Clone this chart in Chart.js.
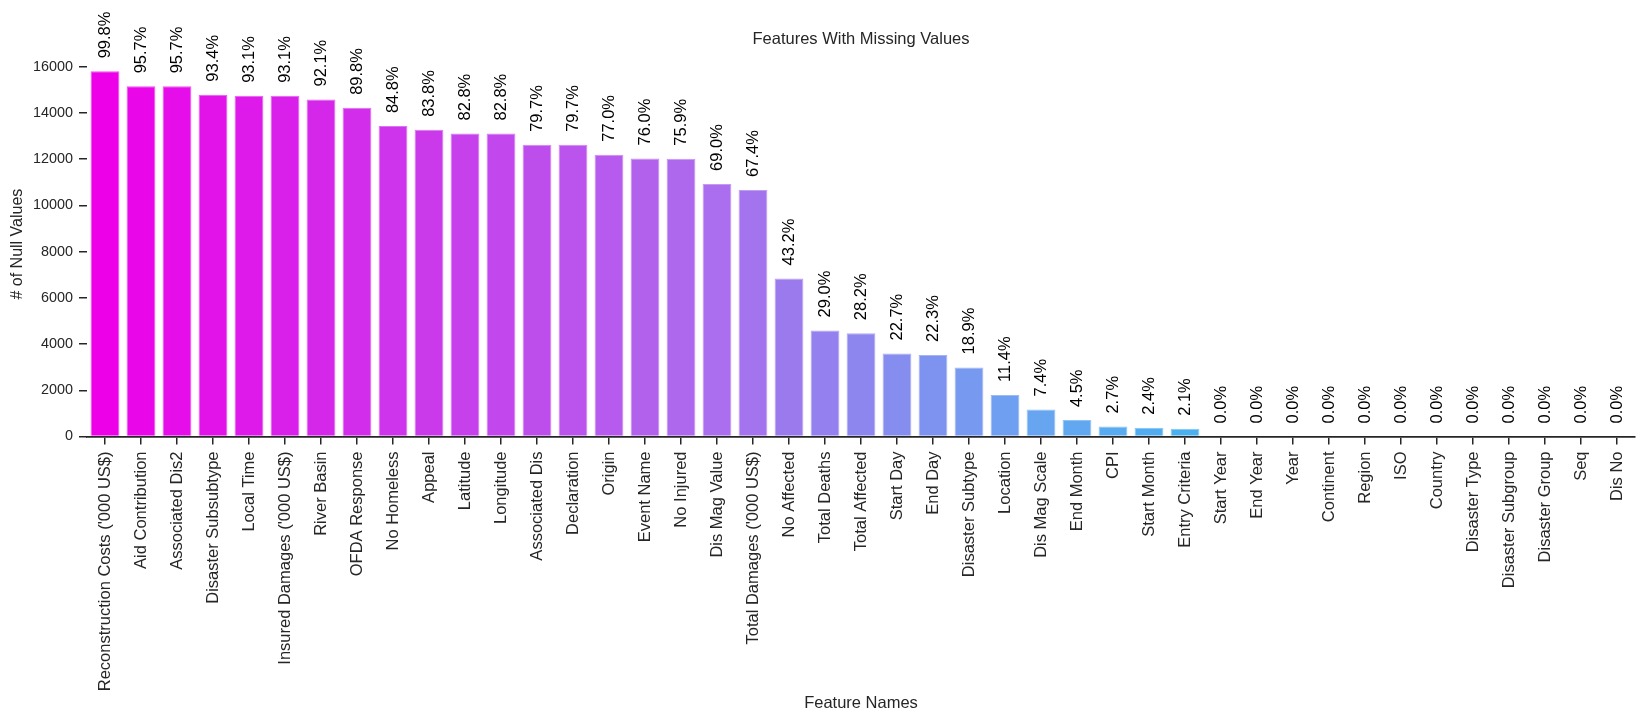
<!DOCTYPE html>
<html>
<head>
<meta charset="utf-8">
<title>Features With Missing Values</title>
<script src="https://cdn.jsdelivr.net/npm/chart.js@4.4.0/dist/chart.umd.min.js"></script>
<style>
  html, body { margin: 0; padding: 0; background: #fff; }
  #wrap { position: relative; width: 1646px; height: 722px; }
</style>
</head>
<body>
<div id="wrap"><canvas id="chart"></canvas></div>
<script>
// Data
const features = [
  "Reconstruction Costs ('000 US$)", 'Aid Contribution', 'Associated Dis2', 'Disaster Subsubtype',
  'Local Time', "Insured Damages ('000 US$)", 'River Basin', 'OFDA Response', 'No Homeless',
  'Appeal', 'Latitude', 'Longitude', 'Associated Dis', 'Declaration', 'Origin', 'Event Name',
  'No Injured', 'Dis Mag Value', "Total Damages ('000 US$)", 'No Affected', 'Total Deaths',
  'Total Affected', 'Start Day', 'End Day', 'Disaster Subtype', 'Location', 'Dis Mag Scale',
  'End Month', 'CPI', 'Start Month', 'Entry Criteria', 'Start Year', 'End Year', 'Year',
  'Continent', 'Region', 'ISO', 'Country', 'Disaster Type', 'Disaster Subgroup',
  'Disaster Group', 'Seq', 'Dis No'
];
const nullCounts = [
  15800, 15150, 15150, 14790, 14740, 14740, 14580, 14220, 13430,
  13270, 13110, 13110, 12620, 12620, 12190, 12030,
  12020, 10930, 10670, 6840, 4590,
  4470, 3590, 3530, 2990, 1800, 1170,
  710, 430, 380, 330, 0, 0, 0,
  0, 0, 0, 0, 0, 0,
  0, 0, 0
];
const nullPercents = [
  99.8, 95.7, 95.7, 93.4, 93.1, 93.1, 92.1, 89.8, 84.8,
  83.8, 82.8, 82.8, 79.7, 79.7, 77.0, 76.0,
  75.9, 69.0, 67.4, 43.2, 29.0,
  28.2, 22.7, 22.3, 18.9, 11.4, 7.4,
  4.5, 2.7, 2.4, 2.1, 0.0, 0.0, 0.0,
  0.0, 0.0, 0.0, 0.0, 0.0, 0.0,
  0.0, 0.0, 0.0
];
const yTickValues = [0, 2000, 4000, 6000, 8000, 10000, 12000, 14000, 16000];

// magenta -> light blue gradient, anchors
const colorStops = [
  [0, [237, 0, 232]],
  [17, [170, 110, 238]],
  [26, [104, 165, 240]],
  [30, [74, 176, 238]],
  [42, [0, 215, 238]]
];
function barColor(i, lighten) {
  let k = 0;
  while (k < colorStops.length - 2 && i > colorStops[k + 1][0]) k++;
  const [i0, c0] = colorStops[k];
  const [i1, c1] = colorStops[k + 1];
  const t = Math.min(1, Math.max(0, (i - i0) / (i1 - i0)));
  const c = c0.map((v, j) => v + (c1[j] - v) * t);
  const m = c.map(v => Math.round(v + (255 - v) * lighten));
  return `rgb(${m[0]},${m[1]},${m[2]})`;
}
const barColors = features.map((f, i) => barColor(i, 0));
const edgeColors = features.map((f, i) => barColor(i, 0.3));

const textColor = '#262626';
const fontFamily = '"Liberation Sans", Arial, sans-serif';

// title + percentage labels above bars
const annotate = {
  id: 'annotate',
  afterDatasetsDraw(chart) {
    const ctx = chart.ctx;
    const area = chart.chartArea;
    ctx.save();
    ctx.fillStyle = textColor;
    ctx.font = '16.5px ' + fontFamily;
    ctx.textAlign = 'center';
    ctx.textBaseline = 'middle';
    ctx.fillText('Features With Missing Values', (area.left + area.right) / 2, 39);

    ctx.fillStyle = '#000';
    ctx.font = '16.5px ' + fontFamily;
    ctx.textAlign = 'left';
    chart.getDatasetMeta(0).data.forEach((bar, i) => {
      ctx.save();
      ctx.translate(bar.x, bar.y - 13);
      ctx.rotate(-Math.PI / 2);
      ctx.fillText(nullPercents[i].toFixed(1) + '%', 0, 0);
      ctx.restore();
    });
    ctx.restore();
  }
};

new Chart(document.getElementById('chart'), {
  type: 'bar',
  data: {
    labels: features,
    datasets: [{
      data: nullCounts,
      backgroundColor: barColors,
      borderColor: edgeColors,
      borderWidth: 1,
      barPercentage: 0.8,
      categoryPercentage: 1.0
    }]
  },
  options: {
    responsive: true,
    maintainAspectRatio: false,
    animation: false,
    layout: {
      padding: { top: 51.7, right: 11, bottom: 0, left: 0 }
    },
    scales: {
      x: {
        afterFit: scale => { scale.height = 285.5; },
        grid: {
          display: true,
          drawOnChartArea: false,
          drawTicks: true,
          tickLength: 8,
          offset: false,
          color: textColor,
          lineWidth: 1.5
        },
        border: { display: true, color: textColor, width: 1.7 },
        ticks: {
          autoSkip: false,
          minRotation: 90,
          maxRotation: 90,
          padding: 7,
          color: textColor,
          font: { family: fontFamily, size: 16.5 }
        },
        title: {
          display: true,
          text: 'Feature Names',
          color: textColor,
          font: { family: fontFamily, size: 16.5 },
          padding: { top: 4, bottom: 9 }
        }
      },
      y: {
        min: 0,
        max: 16650,
        afterFit: scale => { scale.width = 87; },
        afterBuildTicks: scale => { scale.ticks = yTickValues.map(v => ({ value: v })); },
        grid: {
          display: true,
          drawOnChartArea: false,
          drawTicks: true,
          tickLength: 8,
          color: textColor,
          lineWidth: 1.5
        },
        border: { display: false },
        ticks: {
          padding: 6,
          color: textColor,
          font: { family: fontFamily, size: 14.4 },
          callback: v => String(v)
        },
        title: {
          display: true,
          text: '# of Null Values',
          color: textColor,
          font: { family: fontFamily, size: 16 },
          padding: { top: 8, bottom: 4 }
        }
      }
    },
    plugins: {
      legend: { display: false },
      title: { display: false },
      tooltip: { enabled: false }
    }
  },
  plugins: [annotate]
});
</script>
</body>
</html>
